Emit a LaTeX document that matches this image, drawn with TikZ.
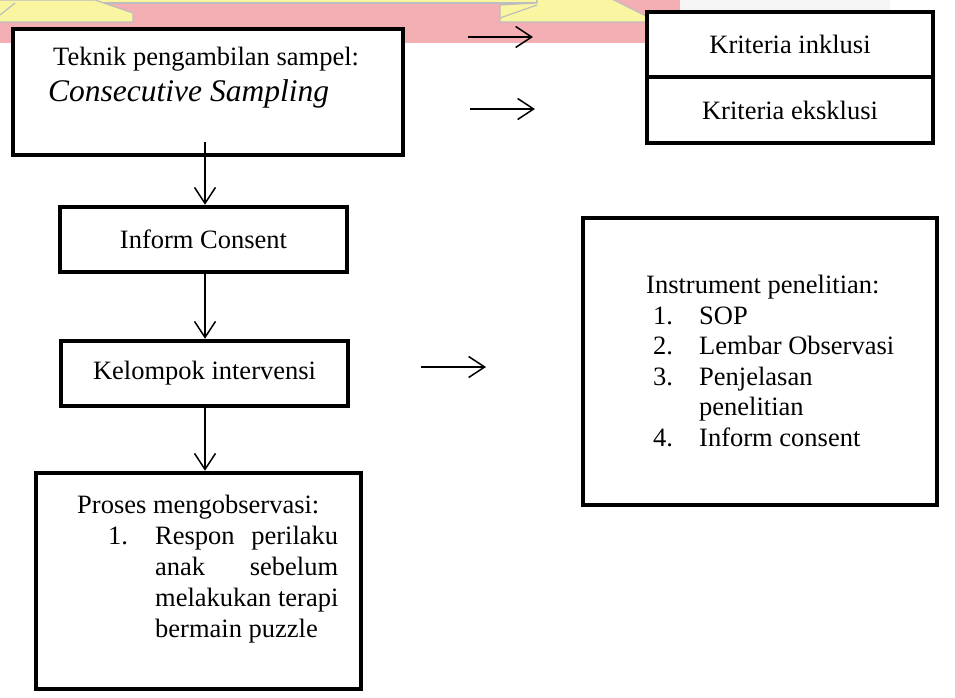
\documentclass[tikz,border=0pt]{standalone}
\usepackage{fontspec}
\setmainfont{Liberation Serif}
\usetikzlibrary{arrows.meta}
\definecolor{wmpink}{HTML}{F4AFB4}
\definecolor{wmyellow}{HTML}{FAF5A0}
\definecolor{wmgray}{HTML}{BDBDBD}
\definecolor{wmlight}{HTML}{F5F5F5}
\begin{document}
\begin{tikzpicture}[x=1pt,y=-1pt,
  box/.style={draw=black, line width=4.5pt, fill=white, inner sep=0pt, font=\fontsize{26.5}{30}\selectfont},
  txt/.style={inner sep=0pt, font=\fontsize{26.5}{30}\selectfont},
  arr/.style={line width=1.5pt, -{Straight Barb[length=16pt,width=21pt]}}]
\useasboundingbox (0,0) rectangle (955,698);
% watermark
\fill[wmlight] (680,0) rectangle (890,15);
\fill[wmpink] (0,0) rectangle (680,43);
\filldraw[fill=wmyellow, draw=wmgray, line width=1.2pt] (95,-2) -- (537,-2) -- (537,3) -- (95,3) -- cycle;
\filldraw[fill=wmyellow, draw=wmgray, line width=1.2pt] (-2,0) -- (95,0) -- (133,13) -- (133,22) -- (-2,22) -- cycle;
\draw[wmgray, line width=1.2pt] (0,15) -- (15,3);
\filldraw[fill=wmyellow, draw=wmgray, line width=1.2pt] (500,5) -- (537,3) -- (537,-2) -- (610,-2) -- (652,19) -- (652,22) -- (500,22) -- cycle;
\draw[wmgray, line width=1.2pt] (500,18) -- (537,5);
% boxes
\node[box, minimum width=390pt, minimum height=126pt] (tk) at (208,92) {};
\node[box, minimum width=286pt, minimum height=65pt] (kin) at (790,44.5) {Kriteria inklusi};
\node[box, minimum width=286pt, minimum height=66pt] (kek) at (790,110) {Kriteria eksklusi};
\node[box, minimum width=287pt, minimum height=65pt] (ic) at (203.5,239.5) {Inform Consent};
\node[box, minimum width=287pt, minimum height=65pt] (kl) at (204.5,373.5) {Kelompok intervensi};
\node[box, minimum width=325pt, minimum height=216pt] (po) at (198.5,581) {};
\node[box, minimum width=354pt, minimum height=287pt] (ins) at (760,361.5) {};
% top box text
\node[txt, anchor=base west] (t1) at (53,66) {Teknik pengambilan sampel:};
\node[txt, anchor=base west, font=\fontsize{31.5}{36}\selectfont\itshape] (t2) at (48,102) {Consecutive Sampling};
% instrument text
\node[txt, anchor=base west] (i0) at (646,293) {Instrument penelitian:};
\node[txt, anchor=base west] (n1) at (653,324) {1.};
\node[txt, anchor=base west] (i1) at (699,324) {SOP};
\node[txt, anchor=base west] (n2) at (653,354.5) {2.};
\node[txt, anchor=base west] (i2) at (699,354.5) {Lembar Observasi};
\node[txt, anchor=base west] (n3) at (653,385) {3.};
\node[txt, anchor=base west] (i3) at (699,385) {Penjelasan};
\node[txt, anchor=base west] (i3b) at (699,415.5) {penelitian};
\node[txt, anchor=base west] (n4) at (653,446) {4.};
\node[txt, anchor=base west] (i4) at (699,446) {Inform consent};
% observation text
\node[txt, anchor=base west] (p0) at (77,513) {Proses mengobservasi:};
\node[txt, anchor=base west] (m1) at (108,544) {1.};
\node[txt, anchor=base west] (p1) at (155,544) {\makebox[183pt][s]{Respon\hfill perilaku}};
\node[txt, anchor=base west] (p2) at (155,575) {\makebox[183pt][s]{anak\hfill sebelum}};
\node[txt, anchor=base west] (p3) at (155,606) {melakukan terapi};
\node[txt, anchor=base west] (p4) at (155,637) {bermain puzzle};
% connectors
\coordinate (s1) at (205,142);
\draw[arr] (s1) -- (ic.north -| s1);
\draw[arr] (ic.south -| s1) -- (kl.north -| s1);
\draw[arr] (kl.south -| s1) -- (po.north -| s1);
\coordinate (a1s) at (468,37);
\coordinate (a1e) at (533,37);
\coordinate (a2s) at (470,109);
\coordinate (a2e) at (535,109);
\coordinate (a3s) at (421,367);
\coordinate (a3e) at (486,367);
\draw[arr] (a1s) -- (a1e);
\draw[arr] (a2s) -- (a2e);
\draw[arr] (a3s) -- (a3e);
\end{tikzpicture}
\end{document}
